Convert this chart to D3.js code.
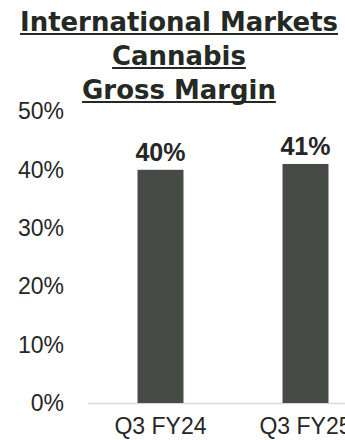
<!DOCTYPE html>
<html>
<head>
<meta charset="utf-8">
<script src="https://cdn.jsdelivr.net/npm/d3@7"></script>
<style>
  body { margin: 0; background: #fff; }
  svg { display: block; }
</style>
</head>
<body>
<div class="chart"></div>
<script>
const titleLines = ["International Markets", "Cannabis", "Gross Margin"];
const categories = ["Q3 FY24", "Q3 FY25"];
const margins = [0.40, 0.41];
const valueLabels = ["40%", "41%"];
const yTicks = [0, 0.1, 0.2, 0.3, 0.4, 0.5];

const W = 345, H = 440;
const barColor = "#464c45";
const textColor = "#262626";
const titleColor = "#242923";

const svg = d3.select(".chart")
  .append("svg")
  .attr("width", W)
  .attr("height", H);

const x = d3.scaleBand()
  .domain(categories)
  .range([88, 378])
  .paddingInner(0.683)
  .paddingOuter(0.3415);

const y = d3.scaleLinear()
  .domain([0, 0.5])
  .range([403, 111.5]);

// y tick labels (no axis line)
const yAxis = d3.axisLeft(y)
  .tickValues(yTicks)
  .tickFormat(d3.format(".0%"))
  .tickSize(0)
  .tickPadding(0);

svg.append("g")
  .attr("transform", "translate(64,0)")
  .call(yAxis)
  .call((g) => g.select(".domain").remove())
  .selectAll("text")
  .attr("font-family", "Liberation Sans, Arial, sans-serif")
  .attr("font-size", 23)
  .attr("fill", textColor);

// baseline
svg.append("line")
  .attr("x1", 88)
  .attr("x2", W)
  .attr("y1", y(0) + 0.5)
  .attr("y2", y(0) + 0.5)
  .attr("stroke", "#d9d9d9")
  .attr("stroke-width", 1.5);

// bars
svg.selectAll(".bar")
  .data(margins)
  .enter()
  .append("rect")
  .attr("class", "bar")
  .attr("x", (d, i) => x(categories[i]))
  .attr("width", x.bandwidth())
  .attr("y", (d) => y(d))
  .attr("height", (d) => y(0) - y(d))
  .attr("fill", barColor);

// value labels
svg.selectAll(".value")
  .data(margins)
  .enter()
  .append("text")
  .attr("class", "value")
  .attr("x", (d, i) => x(categories[i]) + x.bandwidth() / 2)
  .attr("y", (d) => y(d) - 9)
  .attr("text-anchor", "middle")
  .attr("font-family", "Liberation Sans, Arial, sans-serif")
  .attr("font-weight", "bold")
  .attr("font-size", 25)
  .attr("fill", textColor)
  .text((d, i) => valueLabels[i]);

// category labels
svg.selectAll(".cat")
  .data(categories)
  .enter()
  .append("text")
  .attr("class", "cat")
  .attr("x", (d) => x(d) + x.bandwidth() / 2)
  .attr("y", 434)
  .attr("text-anchor", "middle")
  .attr("font-family", "Liberation Sans, Arial, sans-serif")
  .attr("font-size", 23)
  .attr("fill", textColor)
  .text((d) => d);

// title, underlined - size picked so first line spans ~318px like the original
const titleBaselines = [31, 65, 99];
const probe = svg.append("text")
  .attr("font-family", "DejaVu Sans, sans-serif")
  .attr("font-weight", "bold")
  .attr("font-size", 20)
  .text(titleLines[0]);
const titleSize = 20 * 318 / probe.node().getComputedTextLength();
probe.remove();

titleLines.forEach((line, i) => {
  const t = svg.append("text")
    .attr("x", 179)
    .attr("y", titleBaselines[i])
    .attr("text-anchor", "middle")
    .attr("font-family", "DejaVu Sans, sans-serif")
    .attr("font-weight", "bold")
    .attr("font-size", titleSize)
    .attr("fill", titleColor)
    .text(line);
  const w = t.node().getComputedTextLength();
  svg.append("line")
    .attr("x1", 179 - w / 2)
    .attr("x2", 179 + w / 2)
    .attr("y1", titleBaselines[i] + 3)
    .attr("y2", titleBaselines[i] + 3)
    .attr("stroke", titleColor)
    .attr("stroke-width", 2);
});
</script>
</body>
</html>
